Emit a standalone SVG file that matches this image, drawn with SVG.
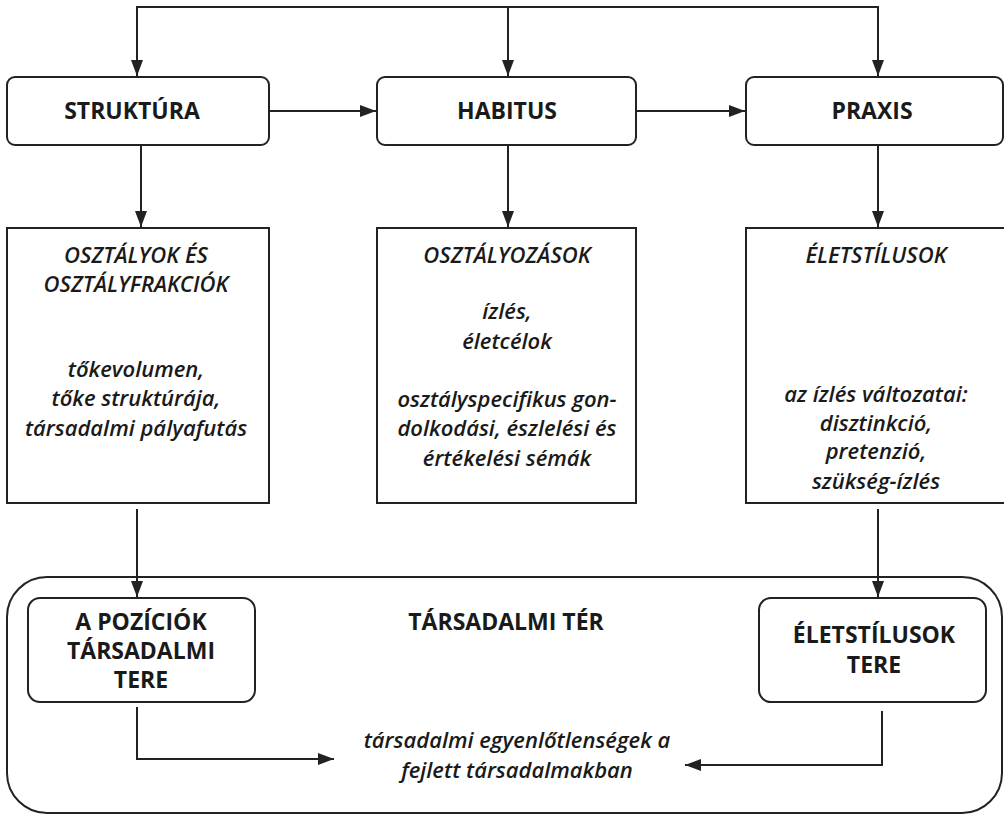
<svg xmlns="http://www.w3.org/2000/svg" width="1004" height="815" viewBox="0 0 1004 815">
<defs>
<style>
.box{fill:#fff;stroke:#222;stroke-width:2}
.ln{fill:none;stroke:#222;stroke-width:2}
.b{font-family:"Open Sans","Liberation Sans",sans-serif;font-weight:700;font-size:23px;fill:#1a1a1a;text-anchor:middle}
.i{font-family:"Open Sans","Liberation Sans",sans-serif;font-weight:600;font-style:italic;font-size:22px;fill:#1a1a1a;text-anchor:middle}
</style>
<marker id="ah" markerUnits="userSpaceOnUse" markerWidth="16" markerHeight="12" refX="16" refY="6" orient="auto">
<path d="M0,0 L16,6 L0,12 z" fill="#222"/>
</marker>
</defs>
<rect width="1004" height="815" fill="#fff"/>
<g id="container">
<rect class="box" x="7" y="577" width="995" height="236" rx="40"/>
<text class="b" x="506" y="630">TÁRSADALMI TÉR</text>
<text class="i" x="517" y="748">társadalmi egyenlőtlenségek a</text>
<text class="i" x="517" y="778">fejlett társadalmakban</text>
</g>
<g id="connectors">
<path class="ln" d="M508,7 H137 V76" marker-end="url(#ah)"/>
<path class="ln" d="M508,7 H878 V76" marker-end="url(#ah)"/>
<path class="ln" d="M508,7 V76" marker-end="url(#ah)"/>
<path class="ln" d="M270,111 H376" marker-end="url(#ah)"/>
<path class="ln" d="M637,111 H745" marker-end="url(#ah)"/>
<path class="ln" d="M141,145 V227" marker-end="url(#ah)"/>
<path class="ln" d="M508,145 V227" marker-end="url(#ah)"/>
<path class="ln" d="M878,145 V227" marker-end="url(#ah)"/>
<path class="ln" d="M137,509 V597" marker-end="url(#ah)"/>
<path class="ln" d="M878,509 V597" marker-end="url(#ah)"/>
<path class="ln" d="M137,707 V759 H334" marker-end="url(#ah)"/>
<path class="ln" d="M882,711 V765 H685" marker-end="url(#ah)"/>
</g>
<g id="struktura">
<rect class="box" x="7" y="77" width="262" height="68" rx="8"/>
<text class="b" x="132" y="119">STRUKTÚRA</text>
</g>
<g id="habitus">
<rect class="box" x="377" y="77" width="259" height="68" rx="8"/>
<text class="b" x="507" y="119">HABITUS</text>
</g>
<g id="praxis">
<rect class="box" x="746" y="77" width="257" height="68" rx="8"/>
<text class="b" x="872" y="119">PRAXIS</text>
</g>
<g id="osztalyok">
<rect class="box" x="7" y="228" width="262" height="275"/>
<text class="i" x="136" y="263">OSZTÁLYOK ÉS</text>
<text class="i" x="136" y="292">OSZTÁLYFRAKCIÓK</text>
<text class="i" x="136" y="377">tőkevolumen,</text>
<text class="i" x="136" y="406">tőke struktúrája,</text>
<text class="i" x="136" y="436">társadalmi pályafutás</text>
</g>
<g id="osztalyozasok">
<rect class="box" x="377" y="228" width="259" height="275"/>
<text class="i" x="507" y="263">OSZTÁLYOZÁSOK</text>
<text class="i" x="507" y="319">ízlés,</text>
<text class="i" x="507" y="349">életcélok</text>
<text class="i" x="507" y="407">osztályspecifikus gon-</text>
<text class="i" x="507" y="436">dolkodási, észlelési és</text>
<text class="i" x="507" y="466">értékelési sémák</text>
</g>
<g id="eletstilusok">
<rect class="box" x="746" y="228" width="264" height="275"/>
<text class="i" x="876" y="402">az ízlés változatai:</text>
<text class="i" x="876" y="263">ÉLETSTÍLUSOK</text>
<text class="i" x="876" y="431">disztinkció,</text>
<text class="i" x="876" y="459">pretenzió,</text>
<text class="i" x="876" y="489">szükség-ízlés</text>
</g>
<g id="poziciok">
<rect class="box" x="28" y="598" width="227" height="104" rx="12"/>
<text class="b" x="141" y="630">A POZÍCIÓK</text>
<text class="b" x="141" y="659">TÁRSADALMI</text>
<text class="b" x="141" y="688">TERE</text>
</g>
<g id="eletstilusok-tere">
<rect class="box" x="759" y="598" width="227" height="104" rx="12"/>
<text class="b" x="874" y="643">ÉLETSTÍLUSOK</text>
<text class="b" x="874" y="673">TERE</text>
</g>
</svg>
